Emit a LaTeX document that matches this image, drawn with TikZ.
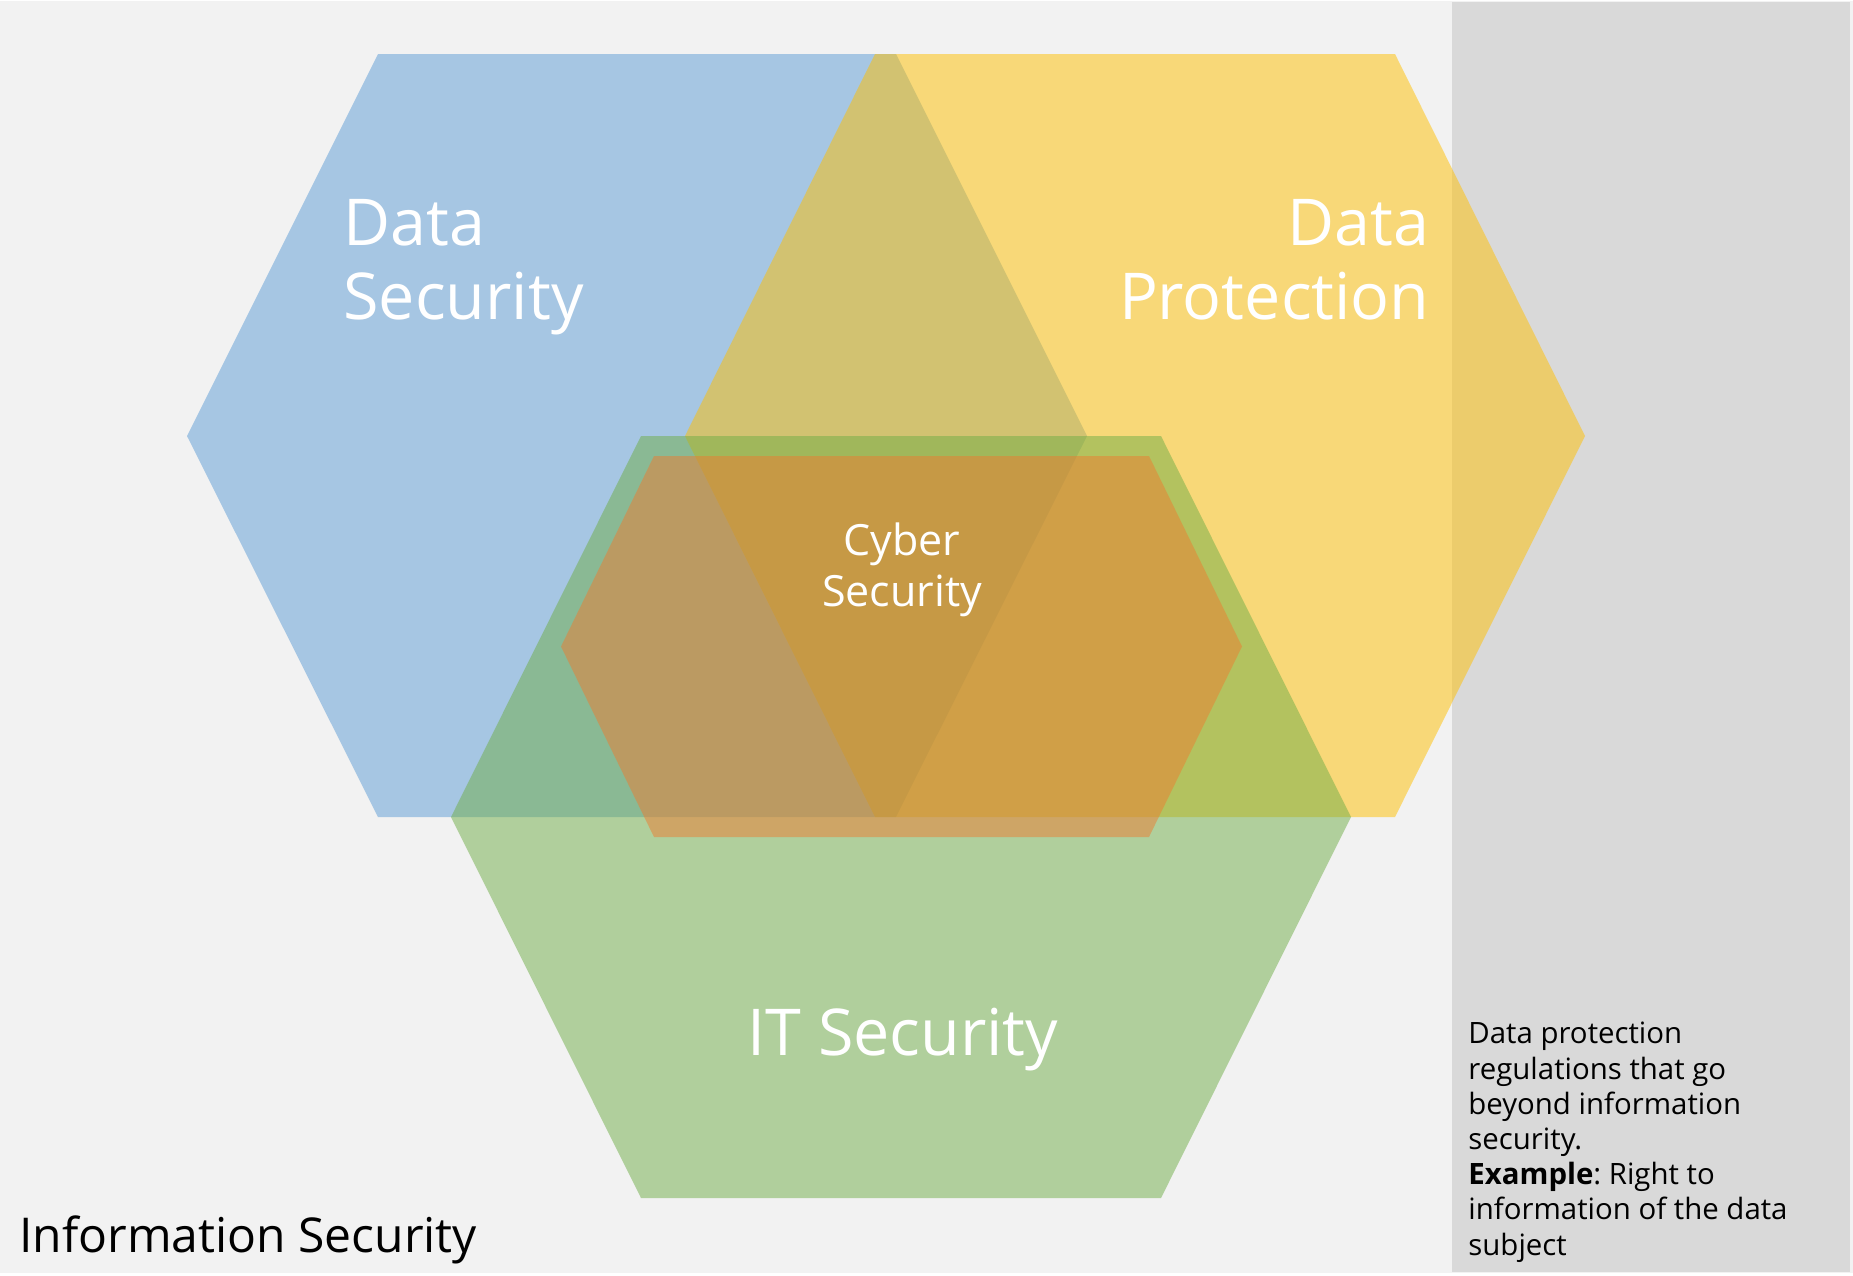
\documentclass[tikz,border=0pt]{standalone}
\usepackage{fontspec}
\setmainfont{Open Sans}
\frenchspacing
\definecolor{bgc}{HTML}{F2F2F2}
\definecolor{panelc}{HTML}{D9D9D9}
\definecolor{dsblue}{HTML}{5B9BD5}
\definecolor{dpyellow}{HTML}{FFC000}
\definecolor{itgreen}{HTML}{70AD47}
\definecolor{csorange}{HTML}{ED7D31}
\tikzset{
  hexfill/.style={fill=#1, fill opacity=0.5, draw=none},
  biglabel/.style={text=white, inner sep=0pt, font=\fontsize{32.3pt}{37pt}\selectfont},
  cyberlabel/.style={text=white, inner sep=0pt, align=center, font=\fontsize{21.5pt}{25.5pt}\selectfont},
  sidetext/.style={text=black, inner sep=0pt, align=left, font=\fontsize{14.7pt}{17.6pt}\selectfont},
}
\begin{document}
\begin{tikzpicture}[x=0.5pt, y=-0.5pt]
  \useasboundingbox (0,0) rectangle (1853,1275);
  \fill[white] (0,0) rectangle (1853,1275);
  \fill[bgc] (0,1) rectangle (1853,1273);
  \fill[panelc] (1452,2) rectangle (1850,1272);
  % hexagons
  \path[hexfill=dsblue] (378,54) -- (896,54) -- (1087,436) -- (896,817) -- (378,817) -- (187,436) -- cycle;
  \path[hexfill=dpyellow] (875,54) -- (1395,54) -- (1585,436) -- (1395,817) -- (875,817) -- (685,436) -- cycle;
  \path[hexfill=itgreen] (641,436) -- (1161,436) -- (1351,817) -- (1161,1198) -- (641,1198) -- (451,817) -- cycle;
  \path[hexfill=csorange] (654,456) -- (1149,456) -- (1242,646.5) -- (1149,837) -- (654,837) -- (561,646.5) -- cycle;
  % labels (base anchor = baseline of last line)
  \node[biglabel, align=left, anchor=base west] (ds) at (343,319) {Data\\Security};
  \node[biglabel, align=right, anchor=base east] (dp) at (1430,319) {Data\\Protection};
  \node[cyberlabel, anchor=base] (cs) at (902,606) {Cyber\\Security};
  \node[biglabel, anchor=base] (it) at (903,1055) {IT Security};
  \node[text=black, inner sep=0pt, anchor=base west, font=\fontsize{24pt}{29pt}\selectfont] (is) at (19,1252) {Information Security};
  \node[sidetext, anchor=base west] (side) at (1468,1255) {Data protection\\regulations that go\\beyond information\\security.\\\textbf{Example}: Right to\\information of the data\\subject};
\end{tikzpicture}
\end{document}
